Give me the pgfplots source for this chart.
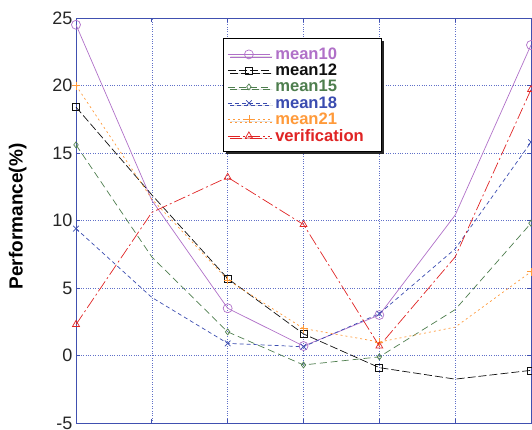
\documentclass[border=0pt]{standalone}
\usepackage{pgfplots}
\pgfplotsset{compat=1.18}
\usepackage{fontspec}
\setmainfont{Liberation Sans}
\usetikzlibrary{shadows}
\definecolor{cten}{HTML}{B070C8}
\definecolor{ctwelve}{HTML}{101010}
\definecolor{cfifteen}{HTML}{4E7E4E}
\definecolor{ceighteen}{HTML}{3A4CB0}
\definecolor{ctwentyone}{HTML}{FF9A3A}
\definecolor{cver}{HTML}{E02424}
\definecolor{caxis}{HTML}{4050B0}
\definecolor{cgrid}{HTML}{6070C8}
\begin{document}
\begin{tikzpicture}
\begin{axis}[
  at={(0,0)}, anchor=south west,
  scale only axis, width=455pt, height=405pt,
  xmin=0, xmax=6, ymin=-5, ymax=25,
  xtick={0,...,6}, xticklabels={},
  ytick={-5,0,5,10,15,20,25},
  /pgf/number format/assume math mode=true,
  yticklabel style={font=\fontsize{18}{18}\selectfont, text=black!85},
  ylabel={\textbf{Performance(\%)}},
  ylabel style={font=\fontsize{19}{19}\selectfont, at={(axis description cs:-0.128,0.51)}, anchor=center, rotate=0},
  axis line style={caxis, line width=0.8pt},
  tick style={caxis, line width=0.8pt},
  major tick length=4pt,
  tick align=inside,
  grid=major,
  grid style={cgrid, dotted, line width=0.6pt},
  clip=false,
  every axis plot/.append style={line width=0.7pt},
  legend cell align=left,
  legend style={at={(axis description cs:0.323,0.95)}, anchor=north west,
    draw=black, line width=1.2pt, fill=white,
    drop shadow={shadow xshift=2.5pt, shadow yshift=-2.5pt, fill=black!85, opacity=1},
    font=\fontsize{16.6}{17}\selectfont\bfseries, row sep=1.2pt, inner xsep=4pt, inner ysep=8pt,
    nodes={inner ysep=1pt},
    /tikz/every odd column/.append style={column sep=3pt}},
  legend image post style={line width=0.7pt},
  legend image code/.code={\draw[#1, mark indices={2}] plot coordinates {(0pt,0pt) (21pt,0pt) (42pt,0pt)};},
]
\addplot[cten, mark=o, mark size=4.5pt, mark indices={1,3,4,5,7}] coordinates {
(0,24.5) (1,11.5) (2,3.5) (3,0.7) (4,3.0) (5,10.4) (6,23.0)};
\addlegendentry{\textcolor{cten}{mean10}}
\addplot[ctwelve, mark=square, mark size=3.5pt, dash pattern=on 8pt off 3pt, mark options={solid}, mark indices={1,3,4,5,7}] coordinates {
(0,18.4) (1,11.9) (2,5.7) (3,1.6) (4,-0.9) (5,-1.75) (6,-1.1)};
\addlegendentry{\textcolor{ctwelve}{mean12}}
\addplot[cfifteen, mark=diamond, mark size=3pt, dash pattern=on 7pt off 4pt, mark options={solid}, mark indices={1,3,4,5,7}] coordinates {
(0,15.6) (1,7.3) (2,1.75) (3,-0.7) (4,-0.1) (5,3.4) (6,9.8)};
\addlegendentry{\textcolor{cfifteen}{mean15}}
\addplot[ceighteen, mark=x, mark size=4pt, dash pattern=on 4pt off 3pt, mark options={solid}, mark indices={1,3,4,5,7}] coordinates {
(0,9.4) (1,4.3) (2,0.9) (3,0.65) (4,3.1) (5,7.9) (6,15.8)};
\addlegendentry{\textcolor{ceighteen}{mean18}}
\addplot[ctwentyone, mark=+, mark size=4pt, dash pattern=on 2pt off 3pt, mark options={solid}, mark indices={1,3,4,5,7}] coordinates {
(0,20.0) (1,11.6) (2,5.6) (3,2.0) (4,1.0) (5,2.1) (6,6.2)};
\addlegendentry{\textcolor{ctwentyone}{mean21}}
\addplot[cver, mark=triangle, mark size=4pt, dash pattern=on 12pt off 3pt on 2pt off 3pt, mark options={solid}, mark indices={1,3,4,5,7}] coordinates {
(0,2.3) (1,10.6) (2,13.2) (3,9.7) (4,0.7) (5,7.3) (6,19.7)};
\addlegendentry{\textcolor{cver}{verification}\rule{12pt}{0pt}}
\end{axis}
\pgfresetboundingbox
\path[use as bounding box] (-76pt,-6pt) rectangle (456pt,423pt);
\end{tikzpicture}
\end{document}
